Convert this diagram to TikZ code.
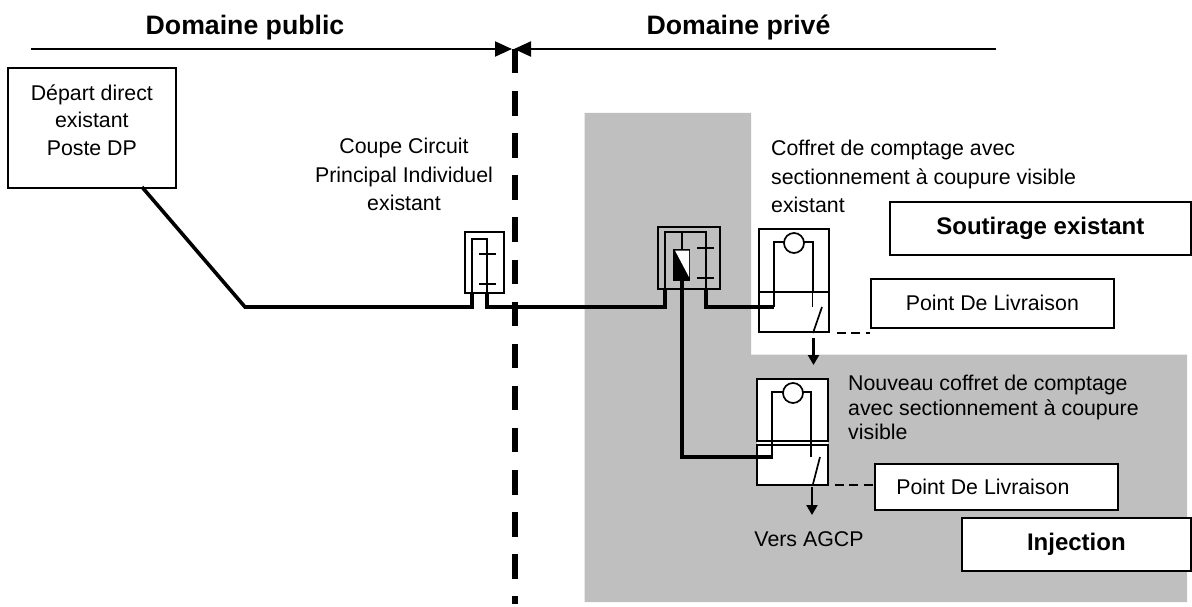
\documentclass[tikz,border=0pt]{standalone}
\usepackage{fontspec}
\setmainfont{Liberation Sans}
\usetikzlibrary{arrows.meta}
\definecolor{zone}{HTML}{BFBFBF}
\tikzset{
  x=1pt,y=-1pt,
  thinw/.style={draw=black,line width=1.7pt,line join=miter},
  thickw/.style={draw=black,line width=3.6pt,line join=miter},
  whitebox/.style={draw=black,line width=1.7pt,fill=white,rectangle,inner sep=0pt,align=center},
  plain/.style={font=\fontsize{21.33}{27.5}\selectfont},
  boldb/.style={font=\fontsize{24}{28}\selectfont\bfseries},
  lbl/.style={plain,inner sep=0pt,align=left},
  head/.style={font=\fontsize{26.67}{30}\selectfont\bfseries,inner sep=0pt},
  tick/.style={draw=black,line width=1.7pt},
  arr/.style={draw=black,line width=2.2pt,-{Triangle[length=10pt,width=11pt]}},
  dashw/.style={draw=black,line width=2pt,dash pattern=on 9pt off 5.3pt},
  bigarr/.style={line width=2pt,-{Triangle[length=17pt,width=15pt]}},
}
\begin{document}
\begin{tikzpicture}
\useasboundingbox (0,0) rectangle (1192,607);
% grey zone
\fill[zone] (584.5,113) -- (751,113) -- (751,354.5) -- (1187,354.5) -- (1187,602) -- (584.5,602) -- cycle;
% headings
\node[head] (hpub) at (245,27.5) {Domaine public};
\node[head] (hpri) at (738.5,27.5) {Domaine privé};
\coordinate (al) at (31,49);
\coordinate (acl) at (512,49);
\coordinate (acr) at (514,49);
\coordinate (ar) at (996,49);
\draw[bigarr] (al) -- (acl);
\draw[bigarr] (ar) -- (acr);
\coordinate (fa) at (515,49);
\coordinate (fb) at (515,604);
\draw[line width=6pt,dash pattern=on 24.5pt off 17.6pt] (fa) -- (fb);
% depart
\node[whitebox,plain,minimum width=168pt,minimum height=120pt,anchor=north west] (dep) at (7,67) {Départ direct\\existant\\Poste DP\rule[-16pt]{0pt}{16pt}};
% labels
\node[lbl,align=center,font=\fontsize{21.33}{28.3}\selectfont] (ccpi) at (404,174.5) {Coupe Circuit\\Principal Individuel\\existant};
\node[lbl,anchor=west,font=\fontsize{21.33}{28.3}\selectfont] (cf1) at (771,176.5) {Coffret de comptage avec\\sectionnement à coupure visible\\existant};
\node[lbl,anchor=west,font=\fontsize{21.33}{24.6}\selectfont] (cf2) at (848,407.5) {Nouveau coffret de comptage\\avec sectionnement à coupure\\visible};
\node[lbl] (agcp) at (809,539) {Vers AGCP};
% wires
\coordinate (w0) at (142,187);
\coordinate (w1) at (245,307);
\coordinate (w2) at (472,307);
\coordinate (w3) at (487,307);
\coordinate (w4) at (665,307);
\draw[thickw] (w0) -- (w1) -- (w2) -- (472,292);
\draw[thickw] (487,292) -- (w3) -- (w4) -- (665,288);
% CCPI
\node[whitebox,fill=none,minimum width=39pt,minimum height=61pt,anchor=north west] (cc) at (464,231) {};
\draw[thinw] (472,292) -- (472,239) -- (487,239) -- (487,292);
\draw[tick] (479,254) -- (496,254);
\draw[tick] (479,284) -- (496,284);
% coupe box
\node[whitebox,fill=none,minimum width=62pt,minimum height=62pt,anchor=north west] (cb) at (657,226) {};
\draw[thinw] (665,288) -- (665,232) -- (706,232) -- (706,288);
\draw[thinw] (682,232) -- (682,250);
\draw[tick] (697,248) -- (714,248);
\draw[tick] (697,278) -- (714,278);
\fill[black] (673,249) rectangle (690,280.5);
\fill[white] (675,250.5) -- (689,250.5) -- (689,277) -- cycle;
\draw[thickw] (706,288) -- (706,307) -- (773,307);
% meter 1
\fill[white] (759,229) rectangle (829,332);
\draw[thinw] (759,229) rectangle (829,332);
\draw[thinw] (759,292) -- (829,292);
\draw[thickw] (706,307) -- (773.5,307);
\draw[thinw,line width=2pt] (773.5,307) -- (773.5,242) -- (812.5,242) -- (812.5,293);
\draw[thinw] (812.5,292) -- (812.5,307);
\node[circle,draw=black,line width=1.7pt,fill=white,minimum size=20pt,inner sep=0pt] (m1) at (794,243) {};
\draw[thinw] (822,307) -- (813,333);
\coordinate (s1) at (813.5,338);
\coordinate (t1) at (813.5,365);
\draw[arr] (s1) -- (t1);
% meter 2
\fill[white] (757,379) rectangle (828,485);
\draw[thinw] (757,379) rectangle (828,441);
\draw[thinw] (757,445) rectangle (828,485);
\draw[thinw] (772,457) -- (772,392) -- (811,392) -- (811,457);
\node[circle,draw=black,line width=1.7pt,fill=white,minimum size=20pt,inner sep=0pt] (m2) at (793,393) {};
\draw[thinw] (820,457) -- (813,484);
\draw[thickw] (682,280) -- (682,457) -- (773,457);
\coordinate (s2) at (812,487);
\coordinate (t2) at (812,515);
\draw[arr] (s2) -- (t2);
% boxes
\node[whitebox,plain,minimum width=243pt,minimum height=49pt,anchor=north west] (pdl1) at (870,278) {Point De Livraison};
\node[whitebox,plain,minimum width=243pt,minimum height=46pt,anchor=north west] (pdl2) at (874,463) {Point De Livraison\hspace{27pt}};
\node[whitebox,boldb,minimum width=301pt,minimum height=53pt,anchor=north west] (sout) at (889,201) {Soutirage existant};
\node[whitebox,boldb,minimum width=229pt,minimum height=53pt,anchor=north west] (inj) at (961,517) {Injection};
\coordinate (d1) at (837,332.5);
\coordinate (d2) at (835,484.5);
\draw[dashw] (d1) -- (pdl1.west |- d1);
\draw[dashw] (d2) -- (pdl2.west |- d2);
\end{tikzpicture}
\end{document}
